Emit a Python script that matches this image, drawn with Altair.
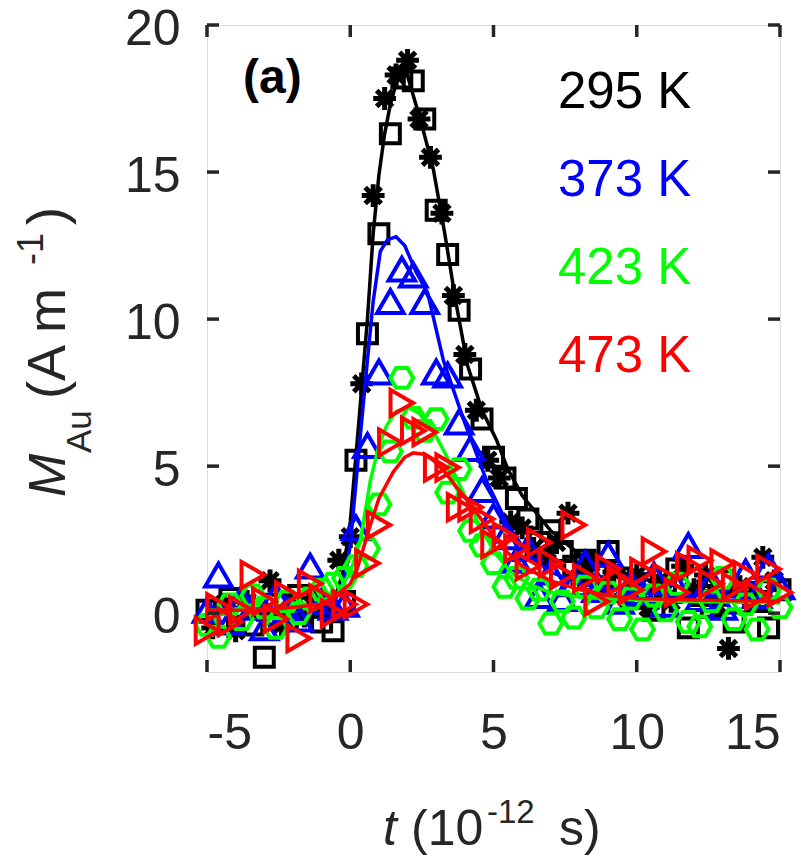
import altair as alt
import pandas as pd

# ---------------- data ----------------
# shared delay grid (ps)
t_grid = [-5.0, -4.6, -4.2, -3.8, -3.4, -3.0, -2.6, -2.2, -1.8, -1.4, -1.0, -0.6, -0.2,
          0.2, 0.6, 1.0, 1.4, 1.8, 2.2, 2.6, 3.0, 3.4, 3.8, 4.2, 4.6, 5.0, 5.4, 5.8,
          6.2, 6.6, 7.0, 7.4, 7.8, 8.2, 8.6, 9.0, 9.4, 9.8, 10.2, 10.6, 11.0, 11.4,
          11.8, 12.2, 12.6, 13.0, 13.4, 13.8, 14.2, 14.6, 15.0]
t_star = [-4.8, -4.4, -4.0, -3.6, -3.2, -2.8, -2.4, -2.0, -1.6, -1.2, -0.8, -0.4, 0.0,
          0.4, 0.8, 1.2, 1.6, 2.0, 2.4, 2.8, 3.2, 3.6, 4.0, 4.4, 4.8, 5.2, 5.6, 6.0,
          6.4, 6.8, 7.2, 7.6, 8.0, 8.4, 8.8, 9.2, 9.6, 10.0, 10.4, 10.8, 11.2, 11.6,
          12.0, 12.4, 12.8, 13.2, 13.6, 14.0, 14.4, 14.8]

# 295 K, squares
m295_sq = [0.1, -0.3, 0.5, 0.2, -0.4, -1.5, 0.3, -0.2, 0.6, 0.2, -0.3, -0.6, 0.4,
           5.2, 9.5, 12.9, 16.3, 18.2, 18.1, 16.8, 13.7, 12.2, 10.3, 8.3, 6.6, 5.3,
           4.6, 3.9, 3.2, 2.4, 2.8, 2.1, 1.6, 1.8, 1.3, 2.1, 1.2, 0.5, 1.0, 0.1, 0.9,
           1.5, -0.5, 0.6, 0.2, 1.1, -0.3, 0.7, 0.4, -0.5, 0.8]
# 295 K, asterisks
m295_st = [-0.5, 0.3, -0.6, 0.4, 0.1, 1.1, -0.4, 0.3, -0.1, 0.5, 0.1, 1.8, 2.6,
           7.8, 14.2, 17.5, 18.3, 18.8, 16.8, 15.5, 13.6, 10.8, 8.8, 6.9, 5.2, 4.6,
           3.1, 2.9, 2.2, 1.9, 2.4, 3.4, 1.2, 1.7, 0.9, 1.4, 0.6, 1.3, 0.2, 1.1, 0.4,
           1.6, 0.8, 1.3, 0.3, -1.2, 0.9, 0.5, 1.9, 1.1]
# 373 K
m373 = [0.1, 1.3, -0.3, 0.5, 0.2, -0.5, 0.6, 0.1, -0.2, 1.6, 0.4, 0.2, 0.3,
        2.9, 5.7, 8.2, 10.6, 11.7, 11.5, 10.6, 8.2, 8.1, 6.5, 5.6, 4.2, 3.3,
        2.6, 1.8, 2.2, 0.6, 1.4, 0.5, 1.0, 1.7, 0.8, 2.0, 0.4, 1.0, 0.7, 1.3,
        0.3, 0.9, 2.3, 0.5, 1.1, 0.2, 0.8, 1.4, 0.6, 1.6, 0.9]
# 423 K
m423 = [-0.4, -0.8, 0.3, -0.2, 0.6, 0.2, -0.5, 0.4, 0.0, 0.5, 0.8, 1.0, 1.2,
        1.6, 2.2, 3.7, 5.5, 8.0, 6.65, 6.2, 6.6, 4.1, 4.9, 2.8, 2.3, 1.7,
        0.9, 1.2, 0.5, 0.8, -0.35, 0.4, -0.15, 0.9, 0.2, 0.7, -0.2, 0.5, -0.55,
        0.6, 0.1, 1.0, -0.3, -0.45, 0.4, 1.2, -0.2, 0.3, -0.55, 0.8, 0.2]
# 473 K
m473 = [-0.6, 0.2, -0.3, 0.1, 1.3, 0.4, -0.2, 0.6, -0.85, 1.0, 0.5, 0.0, 0.3,
        0.3, 1.7, 3.0, 5.8, 7.15, 6.2, 6.15, 4.95, 4.95, 3.6, 3.6, 3.2, 2.35,
        2.6, 2.2, 1.6, 2.4, 1.7, 1.3, 3.0, 1.2, 0.4, 1.5, 1.1, 0.8, 1.4, 2.1,
        1.2, 0.7, 1.6, 1.8, 1.0, 1.7, 0.9, 1.3, 0.6, 1.5, 0.7]

# fitted curves
fit295_t = [-5, -3, -1, -0.5, -0.25, 0, 0.3, 0.6, 0.8, 1.0, 1.2, 1.4, 1.6, 1.9, 2.2,
            2.5, 2.9, 3.3, 3.7, 4.1, 4.6, 5.1, 5.5, 6, 7, 8, 10, 12, 15]
fit295_m = [0.1, 0.1, 0.2, 0.6, 1.4, 3.1, 6.5, 10.0, 12.9, 14.9, 16.3, 17.3, 18.0, 18.6,
            17.6, 16.6, 15.1, 12.9, 10.5, 8.4, 6.9, 5.9, 4.9, 4.0, 2.8, 2.0, 1.2, 0.8, 0.5]
fit373_t = [-5, -3, -1, -0.5, -0.2, 0, 0.3, 0.6, 0.8, 1.05, 1.3, 1.6, 1.9, 2.3, 2.7,
            3.25, 3.95, 4.8, 5.5, 6.2, 7, 8, 10, 12, 15]
fit373_m = [0.2, 0.2, 0.3, 0.5, 1.2, 2.3, 5.5, 8.6, 10.6, 12.3, 12.7, 12.8, 12.5, 11.6,
            10.9, 8.6, 6.6, 4.4, 3.0, 2.0, 1.4, 1.0, 0.7, 0.6, 0.5]
fit423_t = [-5, -3, -1, -0.5, 0, 0.35, 0.7, 1.0, 1.28, 1.6, 2.0, 2.4, 2.9, 3.38, 3.8,
            4.2, 4.6, 5.1, 5.6, 6.2, 7, 8, 10, 12, 15]
fit423_m = [0.1, 0.1, 0.3, 0.6, 1.4, 2.45, 4.5, 5.7, 6.4, 6.85, 7.0, 6.8, 6.2, 5.3, 4.4,
            3.6, 2.8, 2.0, 1.4, 1.0, 0.7, 0.55, 0.45, 0.4, 0.35]
fit473_t = [-5, -3, -1, -0.5, 0, 0.24, 0.7, 1.0, 1.5, 1.9, 2.2, 2.6, 2.9, 3.3, 3.73,
            4.2, 4.64, 5.34, 6, 7, 8, 9, 10, 12, 15]
fit473_m = [0.1, 0.1, 0.3, 0.6, 1.0, 1.5, 3.0, 3.9, 4.8, 5.3, 5.45, 5.4, 5.2, 4.8, 4.26,
            3.7, 3.1, 2.2, 1.6, 1.1, 0.8, 0.6, 0.5, 0.45, 0.4]

x_ticks = [-5, 0, 5, 10, 15]
y_ticks = [0, 5, 10, 15, 20]
legend_labels = ["295 K", "373 K", "423 K", "473 K"]
colors = ["#000000", "#0000ff", "#00ff00", "#ff0000"]

# ---------------- layout ----------------
W, H = 573, 647
FONT = "Liberation Sans"
INK = "#262626"
TICK = 12
MW = 4  # marker stroke width

x_scale = alt.Scale(domain=[-5, 15], nice=False, zero=False)
y_scale = alt.Scale(domain=[-2, 20], nice=False, zero=False)
x_axis = alt.Axis(values=x_ticks, ticks=False, domain=False, grid=False, title=None,
                  labelFontSize=50, labelFont=FONT, labelColor=INK, labelPadding=36,
                  labelExpr="'' + datum.value")
y_axis = alt.Axis(values=y_ticks, ticks=False, domain=False, grid=False, title=None,
                  labelFontSize=50, labelFont=FONT, labelColor=INK, labelPadding=27,
                  labelOffset=4, labelExpr="'' + datum.value")


def X(field="t"):
    return alt.X(f"{field}:Q", scale=x_scale, axis=x_axis)


def Y(field="m"):
    return alt.Y(f"{field}:Q", scale=y_scale, axis=y_axis)


def points(ts, ms, shape, color, size, sw=MW):
    df = pd.DataFrame({"t": ts, "m": ms})
    return alt.Chart(df).mark_point(shape=shape, color=color, size=size, filled=False,
                                    strokeWidth=sw, opacity=1).encode(x=X(), y=Y())


def fit(ts, ms, color):
    df = pd.DataFrame({"t": ts, "m": ms})
    return alt.Chart(df).mark_line(color=color, strokeWidth=3.5).encode(x=X(), y=Y())


def text(s, x, y, size, color=INK, angle=0, style="normal", weight="normal",
         align="left", baseline="alphabetic"):
    df = pd.DataFrame({"s": [s]})
    return alt.Chart(df).mark_text(font=FONT, fontSize=size, color=color, angle=angle,
                                   fontStyle=style, fontWeight=weight, align=align,
                                   baseline=baseline).encode(
        x=alt.value(x), y=alt.value(y), text="s:N")


ASTERISK = "M0,-1L0,1M-1,0L1,0M-0.7,-0.7L0.7,0.7M-0.7,0.7L0.7,-0.7"
HEXAGON = "M-1,0L-0.5,-0.87L0.5,-0.87L1,0L0.5,0.87L-0.5,0.87Z"

layers = [
    points(t_grid, m295_sq, "square", colors[0], 360),
    points(t_star, m295_st, ASTERISK, colors[0], 520, sw=5),
    fit(fit295_t, fit295_m, colors[0]),
    points(t_grid, m373, "triangle-up", colors[1], 700),
    fit(fit373_t, fit373_m, colors[1]),
    points(t_grid, m423, HEXAGON, colors[2], 520),
    fit(fit423_t, fit423_m, colors[2]),
    points(t_grid, m473, "triangle-right", colors[3], 680),
    fit(fit473_t, fit473_m, colors[3]),
]

# inward ticks on all four sides of the box
xt = pd.DataFrame({"t": x_ticks})
yt = pd.DataFrame({"m": y_ticks})
tick_style = dict(color=INK, strokeWidth=3.5)
layers += [
    alt.Chart(xt).mark_rule(**tick_style).encode(x=X(), y=alt.value(H), y2=alt.value(H - TICK)),
    alt.Chart(xt).mark_rule(**tick_style).encode(x=X(), y=alt.value(0), y2=alt.value(TICK)),
    alt.Chart(yt).mark_rule(**tick_style).encode(y=Y(), x=alt.value(0), x2=alt.value(TICK)),
    alt.Chart(yt).mark_rule(**tick_style).encode(y=Y(), x=alt.value(W), x2=alt.value(W - TICK)),
]

# temperature labels
for i, (lab, col) in enumerate(zip(legend_labels, colors)):
    layers.append(text(lab, 351, 83 + 88 * i, 51, color=col))

# panel tag
layers.append(text("(a)", 36, 68, 48, color="#000000", weight="bold"))

# x title: t (10^-12 s)
XB = 820
layers += [
    text("t", 176, XB, 50, style="italic"),
    text("(10", 204, XB, 50),
    text("-12", 280, XB - 22, 33),
    text("s)", 352, XB, 50),
]

# y title: M_Au (A m^-1), rotated
YB = -142
layers += [
    text("M", YB, 472, 52, style="italic", angle=270),
    text("Au", YB + 26, 428, 35, angle=270),
    text("(A m", YB, 374, 54, angle=270),
    text("-1", YB - 22, 240, 36, angle=270),
    text(")", YB, 200, 54, angle=270),
]

chart = alt.layer(*layers).properties(
    width=W, height=H,
    autosize=alt.AutoSizeParams(type="none"),
    padding={"left": 207, "top": 25, "right": 28, "bottom": 183},
).configure_view(stroke=INK, strokeWidth=3.5).configure(background="white")

chart.save("out.html", embed_options={"renderer": "svg", "actions": False})
